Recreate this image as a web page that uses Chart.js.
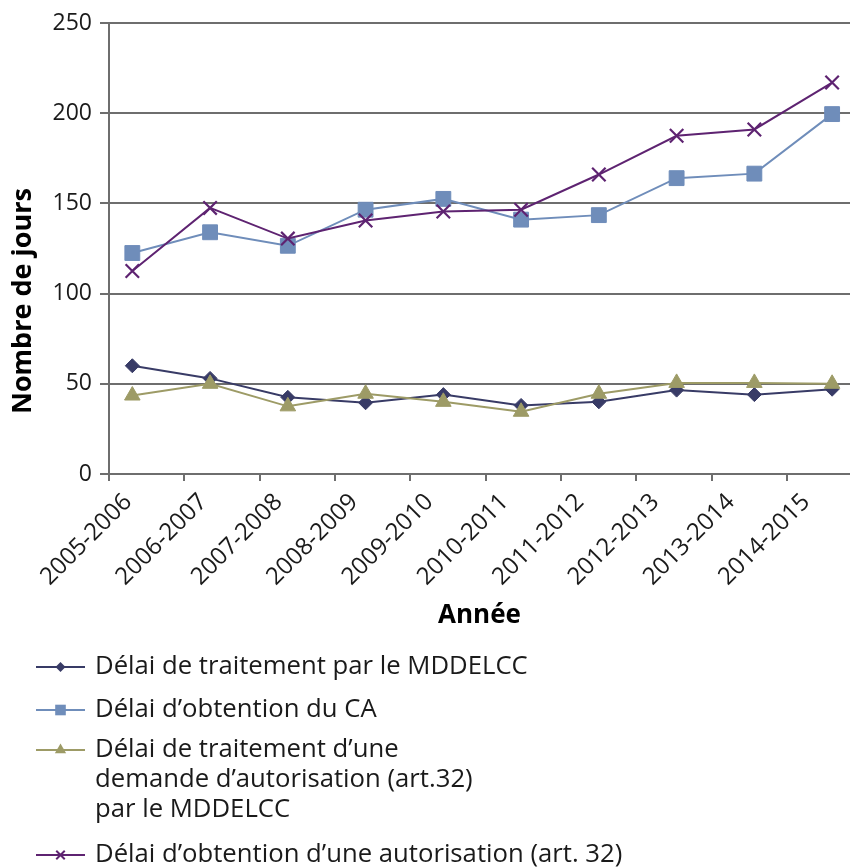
<!DOCTYPE html>
<html>
<head>
<meta charset="utf-8">
<script src="https://cdn.jsdelivr.net/npm/chart.js@4"></script>
<style>
html,body{margin:0;padding:0;background:#fff;}
#wrap{width:850px;height:867px;position:relative;}
</style>
</head>
<body>
<div id="wrap"><canvas id="c"></canvas></div>
<script>
// ---- Data ----
const categories = ['2005-2006','2006-2007','2007-2008','2008-2009','2009-2010','2010-2011','2011-2012','2012-2013','2013-2014','2014-2015'];
const delaiTraitementMDDELCC = [60, 53, 42.5, 39.5, 44, 38, 40, 46.5, 44, 47];
const delaiObtentionCA = [122.5, 134, 126.5, 146.5, 152.5, 141, 143.5, 164, 166.5, 199.5];
const delaiTraitementArt32 = [43.5, 50, 37.5, 44.5, 40, 34.5, 44.5, 50.5, 50.5, 50];
const delaiObtentionArt32 = [112.5, 147.5, 130.5, 140.5, 145.5, 146.5, 166, 187.5, 191, 217];
const seriesLabels = [
  ['Délai de traitement par le MDDELCC'],
  ['Délai d’obtention du CA'],
  ['Délai de traitement d’une', 'demande d’autorisation (art.32)', 'par le MDDELCC'],
  ['Délai d’obtention d’une autorisation (art. 32)']
];
const yTickValues = [0, 50, 100, 150, 200, 250];
const yTitle = 'Nombre de jours';
const xTitle = 'Année';

// ---- Styling ----
const FONT = '"Open Sans", "Noto Sans", sans-serif';
const GRID = '#6e6e6e';
const TEXT = '#1a1a1a';
const colors = ['#383b66', '#6f8dba', '#9d9b66', '#5e2371'];
const styles = ['rectRot', 'rect', 'triangle', 'crossRot'];
const radii = [7, 10.5, 9, 9.5];
const legendRadii = [5, 7.5, 6.5, 6];

// x axis geometry (points and tick marks as in reference)
const X_MIN = -0.30, X_MAX = 9.23;
const TICK_START = -0.30, TICK_STEP = 0.969;

const toXY = arr => arr.map((v, i) => ({x: i, y: v}));
const seriesValues = [delaiTraitementMDDELCC, delaiObtentionCA, delaiTraitementArt32, delaiObtentionArt32];
const drawOrder = [3, 2, 1, 0];

const datasets = seriesValues.map((vals, i) => ({
  label: seriesLabels[i].join(' '),
  data: toXY(vals),
  borderColor: colors[i],
  backgroundColor: colors[i],
  pointBackgroundColor: colors[i],
  pointBorderColor: colors[i],
  pointStyle: styles[i],
  pointRadius: radii[i],
  pointHoverRadius: radii[i],
  pointBorderWidth: i === 3 ? 2.2 : 1,
  borderWidth: 2,
  tension: 0,
  clip: false,
  order: drawOrder[i]
}));

function drawMarker(ctx, style, x, y, r, color) {
  ctx.save();
  ctx.fillStyle = color; ctx.strokeStyle = color; ctx.lineWidth = 2;
  ctx.beginPath();
  if (style === 'rectRot') {
    ctx.moveTo(x - r, y); ctx.lineTo(x, y - r); ctx.lineTo(x + r, y); ctx.lineTo(x, y + r); ctx.closePath(); ctx.fill();
  } else if (style === 'rect') {
    const s = r * Math.SQRT1_2; ctx.rect(x - s, y - s, 2 * s, 2 * s); ctx.fill();
  } else if (style === 'triangle') {
    ctx.moveTo(x, y - r);
    ctx.lineTo(x + r * Math.sin(2 * Math.PI / 3), y - r * Math.cos(2 * Math.PI / 3));
    ctx.lineTo(x + r * Math.sin(4 * Math.PI / 3), y - r * Math.cos(4 * Math.PI / 3));
    ctx.closePath(); ctx.fill();
  } else {
    const d = r * Math.SQRT1_2;
    ctx.moveTo(x - d, y - d); ctx.lineTo(x + d, y + d);
    ctx.moveTo(x + d, y - d); ctx.lineTo(x - d, y + d); ctx.stroke();
  }
  ctx.restore();
}

const stackedLegend = {
  id: 'stackedLegend',
  afterDraw(chart) {
    const ctx = chart.ctx;
    const rowY = [667, 710, 750, 855];
    const lineGap = 30;
    ctx.save();
    ctx.font = '25.7px ' + FONT;
    ctx.textBaseline = 'middle';
    ctx.textAlign = 'left';
    seriesLabels.forEach((lines, i) => {
      const y = rowY[i];
      ctx.strokeStyle = colors[i]; ctx.lineWidth = 2;
      ctx.beginPath(); ctx.moveTo(36, y); ctx.lineTo(85, y); ctx.stroke();
      drawMarker(ctx, styles[i], 60.5, y, legendRadii[i], colors[i]);
      ctx.fillStyle = TEXT;
      lines.forEach((t, k) => ctx.fillText(t, 95, y + k * lineGap));
    });
    ctx.restore();
  }
};

new Chart(document.getElementById('c'), {
  type: 'line',
  data: { datasets },
  plugins: [stackedLegend],
  options: {
    responsive: true,
    maintainAspectRatio: false,
    animation: false,
    layout: { autoPadding: false, padding: { top: 23, left: 0, right: 0, bottom: 0 } },
    plugins: { legend: { display: false }, tooltip: { enabled: false } },
    scales: {
      x: {
        type: 'linear',
        min: X_MIN,
        max: X_MAX,
        afterBuildTicks: (scale) => {
          scale.ticks = categories.map((c, k) => ({ value: TICK_START + k * TICK_STEP }));
        },
        afterFit: (scale) => { scale.height = 393; scale.paddingRight = 0; scale.paddingLeft = 0; },
        ticks: {
          autoSkip: false,
          minRotation: 45,
          maxRotation: 45,
          callback: (v, i) => categories[i],
          font: { family: FONT, size: 24 },
          color: TEXT,
          padding: 7,
          labelOffset: 19
        },
        grid: { drawOnChartArea: false, drawTicks: true, tickLength: 7, color: GRID, lineWidth: 2 },
        border: { color: GRID, width: 2 },
        title: {
          display: true, text: xTitle, color: '#000',
          font: { family: FONT, size: 26, weight: 'bold' },
          padding: { top: 0, bottom: 236 }
        }
      },
      y: {
        min: 0,
        max: 250,
        afterBuildTicks: (scale) => { scale.ticks = yTickValues.map(v => ({ value: v })); },
        afterFit: (scale) => { scale.width = 109; },
        ticks: { font: { family: FONT, size: 23 }, color: TEXT, padding: 8 },
        grid: { color: GRID, lineWidth: 2, tickLength: 9 },
        border: { color: GRID, width: 2 },
        title: {
          display: true, text: yTitle + ' '.repeat(15), color: '#000',
          font: { family: FONT, size: 27, weight: 'bold' },
          padding: { top: 7, bottom: 0 }
        }
      }
    }
  }
});
</script>
</body>
</html>
